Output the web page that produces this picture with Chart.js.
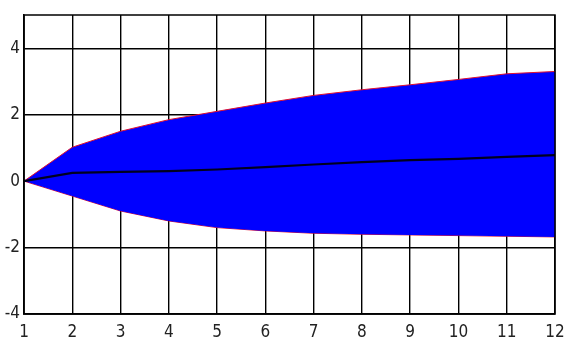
<!DOCTYPE html>
<html>
<head>
<meta charset="utf-8">
<script src="https://cdn.jsdelivr.net/npm/chart.js@4"></script>
<style>
  html, body { margin: 0; padding: 0; background: #fff; }
  #wrap { width: 565px; height: 343px; }
</style>
</head>
<body>
<div id="wrap"><canvas id="c" width="565" height="343"></canvas></div>
<script>
// Forecast horizon (periods)
const periods = [1, 2, 3, 4, 5, 6, 7, 8, 9, 10, 11, 12];
// Upper confidence bound
const upperBand = [0, 1.02, 1.5, 1.85, 2.1, 2.35, 2.58, 2.75, 2.9, 3.06, 3.23, 3.3];
// Lower confidence bound
const lowerBand = [0, -0.45, -0.9, -1.2, -1.4, -1.5, -1.57, -1.6, -1.62, -1.64, -1.66, -1.68];
// Point response
const response = [0, 0.25, 0.28, 0.3, 0.35, 0.42, 0.5, 0.57, 0.63, 0.67, 0.73, 0.78];
// Y axis tick values
const yTicks = [-4, -2, 0, 2, 4];

const FONT = '"Liberation Sans Narrow", "DejaVu Sans Condensed", Arial, sans-serif';

const frame = {
  id: 'frame',
  afterDraw(chart) {
    const a = chart.chartArea, ctx = chart.ctx;
    ctx.save();
    ctx.strokeStyle = '#000';
    ctx.lineWidth = 1.5;
    ctx.strokeRect(a.left, a.top, a.right - a.left, a.bottom - a.top);
    ctx.restore();
  }
};

new Chart(document.getElementById('c'), {
  type: 'line',
  data: {
    labels: periods,
    datasets: [
      {
        label: 'response',
        data: response,
        borderColor: '#000020',
        borderWidth: 2.2,
        pointRadius: 0,
        fill: false,
        tension: 0,
        order: 0
      },
      {
        label: 'upper',
        data: upperBand,
        borderColor: '#e01030',
        borderWidth: 1,
        backgroundColor: '#0000ff',
        pointRadius: 0,
        fill: '+1',
        tension: 0,
        order: 1
      },
      {
        label: 'lower',
        data: lowerBand,
        borderColor: '#e01030',
        borderWidth: 1,
        pointRadius: 0,
        fill: false,
        tension: 0,
        order: 2
      }
    ]
  },
  options: {
    responsive: false,
    animation: false,
    devicePixelRatio: 1,
    layout: { padding: { top: 15, right: 0, left: 0, bottom: 0 } },
    plugins: { legend: { display: false }, tooltip: { enabled: false } },
    scales: {
      x: {
        type: 'linear',
        min: 1,
        max: 12,
        z: 1,
        afterBuildTicks(s) { s.ticks = periods.map(v => ({ value: v })); },
        afterFit(s) { s.height = 29; s.paddingRight = 10; s.paddingLeft = 0; },
        grid: { color: '#000', lineWidth: 1.4, drawTicks: false },
        border: { color: '#000', width: 1.5 },
        ticks: { color: '#222', padding: 8, font: { family: FONT, size: 17 }, maxRotation: 0 }
      },
      y: {
        min: -4,
        max: 5,
        z: 1,
        afterBuildTicks(s) { s.ticks = yTicks.map(v => ({ value: v })); },
        afterFit(s) { s.width = 24; },
        grid: { color: '#000', lineWidth: 1.4, drawTicks: false },
        border: { color: '#000', width: 1.5 },
        ticks: { color: '#222', padding: 4, font: { family: FONT, size: 17 } }
      }
    }
  },
  plugins: [frame]
});
</script>
</body>
</html>
